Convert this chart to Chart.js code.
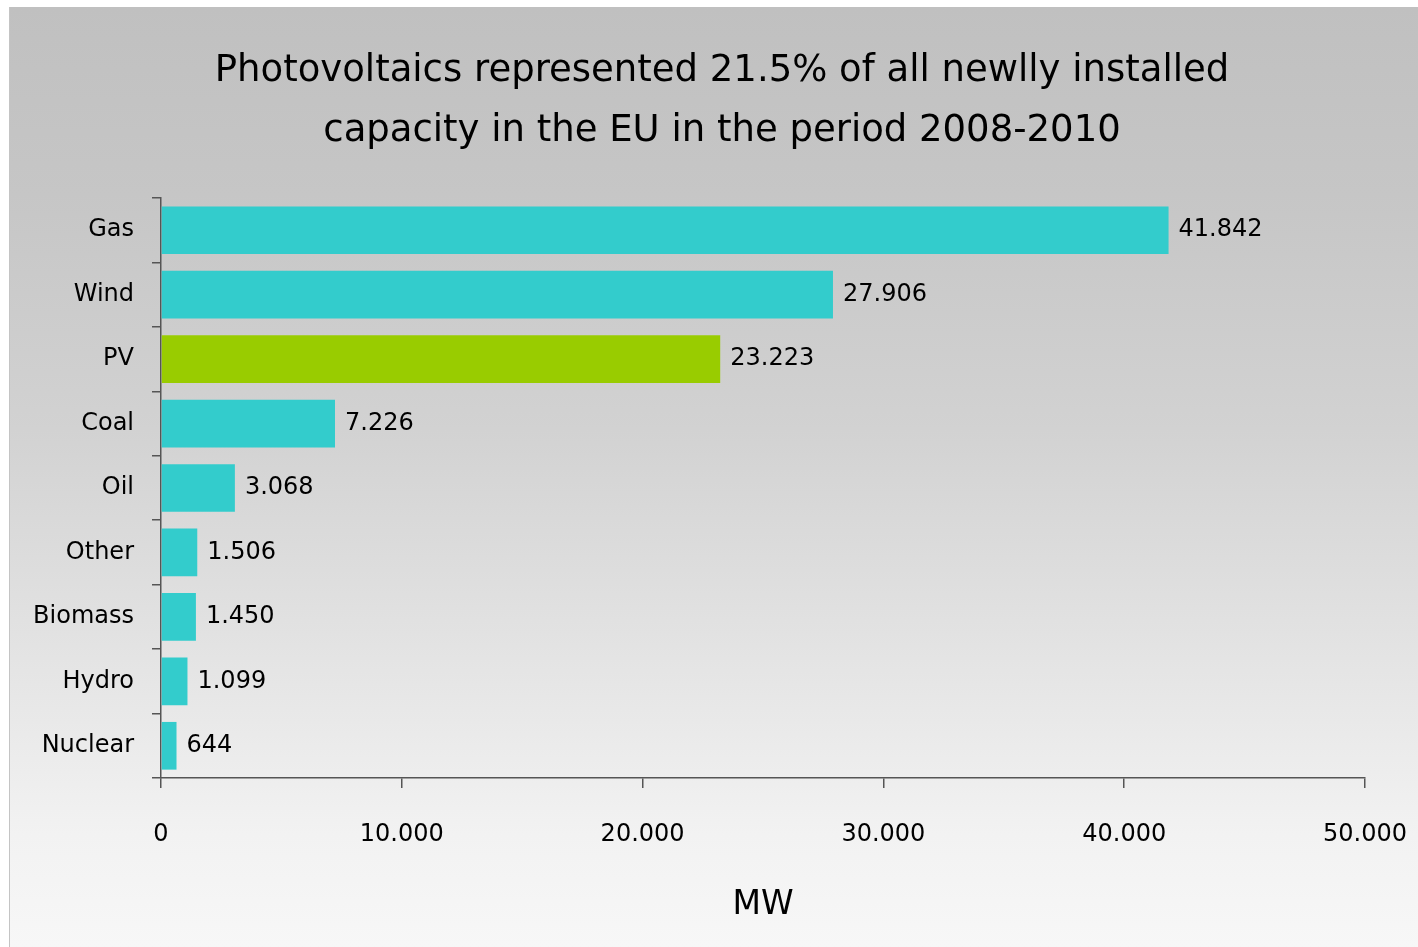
<!DOCTYPE html>
<html>
<head>
<meta charset="utf-8">
<script src="https://cdn.jsdelivr.net/npm/chart.js@4.4.0/dist/chart.umd.min.js"></script>
<style>
  html, body { margin: 0; padding: 0; background: #fff; }
  #panel {
    position: absolute; left: 9px; top: 7px; width: 1409px; height: 940px;
    border-left: 1px solid #c4c4c4;
    background: linear-gradient(to bottom, #c0c0c0 0%, #c6c6c6 20%, #d2d2d2 45%, #e6e6e6 72%, #f2f2f2 88%, #f7f7f7 100%);
  }
  #wrap { position: absolute; left: 0; top: 0; width: 1418px; height: 947px; }
</style>
</head>
<body>
<div id="panel"></div>
<div id="wrap"><canvas id="capacity-chart" width="1418" height="947"></canvas></div>
<script>
Chart.defaults.font.family = 'DejaVu Sans';
Chart.defaults.color = '#000';

// new capacity 2008-2010, MW
const sources = ['Gas', 'Wind', 'PV', 'Coal', 'Oil', 'Other', 'Biomass', 'Hydro', 'Nuclear'];
const capacityMW = [41842, 27906, 23223, 7226, 3068, 1506, 1450, 1099, 644];
const xTicks = [0, 10000, 20000, 30000, 40000, 50000];

const TEAL = '#33cccc';
const GREEN = '#99cc00';

// 41842 -> "41.842"
const fmt = (v) => String(Math.round(v)).replace(/\B(?=(\d{3})+(?!\d))/g, '.');

// value labels at the end of each bar
const barValues = {
  id: 'barValues',
  afterDatasetsDraw(chart) {
    const ctx = chart.ctx;
    const meta = chart.getDatasetMeta(0);
    ctx.save();
    ctx.font = '24px "DejaVu Sans"';
    ctx.fillStyle = '#000';
    ctx.textAlign = 'left';
    ctx.textBaseline = 'middle';
    meta.data.forEach((bar, i) => {
      ctx.fillText(fmt(capacityMW[i]), bar.x + 10, bar.y);
    });
    ctx.restore();
  }
};

const ctx = document.getElementById('capacity-chart').getContext('2d');
new Chart(ctx, {
  type: 'bar',
  data: {
    labels: sources,
    datasets: [{
      data: capacityMW,
      backgroundColor: sources.map((s) => (s === 'PV' ? GREEN : TEAL)),
      borderWidth: 0,
      barPercentage: 0.74,
      categoryPercentage: 1,
    }],
  },
  options: {
    indexAxis: 'y',
    responsive: false,
    animation: false,
    layout: { padding: { left: 26, right: 0, top: 0, bottom: 0 } },
    scales: {
      x: {
        min: 0,
        max: 50000,
        afterBuildTicks: (scale) => { scale.ticks = xTicks.map((v) => ({ value: v })); },
        afterFit: (scale) => {
          scale.height = 169;
          scale.paddingRight = 53;
        },
        border: { color: '#555', width: 1.5 },
        grid: { drawOnChartArea: false, tickLength: 10, color: '#555', lineWidth: 1.5 },
        ticks: {
          font: { size: 24 },
          color: '#000',
          padding: 32,
          maxRotation: 0,
          callback: (v) => fmt(v),
        },
        title: {
          display: true,
          text: 'MW',
          font: { size: 33 },
          color: '#000',
          padding: { top: 0, bottom: 22 },
        },
      },
      y: {
        afterFit: (scale) => { scale.width = 135; },
        border: { color: '#555', width: 1.5 },
        grid: { drawOnChartArea: false, offset: true, tickLength: 9, color: '#555', lineWidth: 1.5 },
        ticks: { font: { size: 24 }, color: '#000', padding: 18 },
      },
    },
    plugins: {
      legend: { display: false },
      tooltip: { enabled: false },
      title: {
        display: true,
        text: ['Photovoltaics represented 21.5% of all newlly installed', 'capacity in the EU in the period 2008-2010'],
        font: { size: 37, weight: 'normal', lineHeight: 60 / 37 },
        color: '#000',
        padding: { top: 41, bottom: 37 },
      },
    },
  },
  plugins: [barValues],
});
</script>
</body>
</html>
